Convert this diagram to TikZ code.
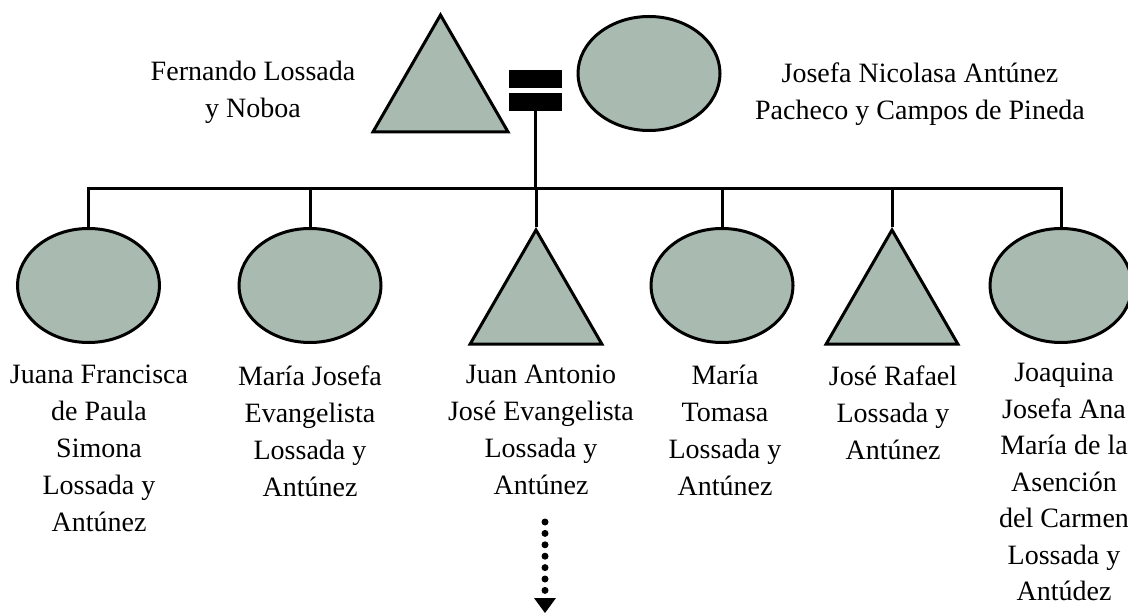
\documentclass[tikz,border=0pt]{standalone}
\usepackage{fontspec}
\setmainfont{Liberation Serif}
\usepackage{tikz}
\definecolor{sage}{HTML}{A9BBB1}
\usetikzlibrary{arrows.meta,shapes.geometric}
\tikzstyle{mujer}=[ellipse, draw=black, fill=sage, line width=1.5pt, minimum width=71pt, minimum height=57pt, inner sep=0]
\tikzstyle{hombre}=[regular polygon, regular polygon sides=3, draw=black, fill=sage, line width=1.5pt, minimum size=76pt, inner sep=0]
\tikzstyle{enlace}=[rectangle, fill=black, minimum width=26.5pt, minimum height=9pt, inner sep=0]
\tikzstyle{nombre}=[align=center, inner sep=0, font=\fontsize{14}{18.5}\selectfont]

\begin{document}
\begin{tikzpicture}[x=0.5pt, y=-0.5pt]
			\useasboundingbox (0,0) rectangle (1128,614);
			% pareja
			\node[hombre, minimum size=78pt] (padre) at (440.5,93) {};
			\node[mujer] (madre) at (649,73.5) {};
			\node[enlace] (enl1) at (535.5,79) {};
			\node[enlace] (enl2) at (535.5,102) {};
			\node[nombre] (nPadre) at (253,92) {Fernando Lossada\\y Noboa};
			\node[nombre] (nMadre) at (920,94) {Josefa Nicolasa Antúnez\\Pacheco y Campos de Pineda};
			% hijos
			\node[mujer] (h1) at (88.5,285.5) {};
			\node[mujer] (h2) at (310,285.5) {};
			\node[hombre] (h3) at (536,306) {};
			\node[mujer] (h4) at (722,285.5) {};
			\node[hombre] (h5) at (892,306) {};
			\node[mujer] (h6) at (1061,285.5) {};
			\node[nombre, anchor=north] (n1) at (99,365) {Juana Francisca\\de Paula\\Simona\\Lossada y\\Antúnez};
			\node[nombre, anchor=north] (n2) at (310,365) {María Josefa\\Evangelista\\Lossada y\\Antúnez};
			\node[nombre, anchor=north] (n3) at (541,365) {Juan Antonio\\José Evangelista\\Lossada y\\Antúnez};
			\node[nombre, anchor=north] (n4) at (725,365) {María\\Tomasa\\Lossada y\\Antúnez};
			\node[nombre, anchor=north] (n5) at (893,365) {José Rafael\\Lossada y\\Antúnez};
			\node[nombre, anchor=north, font=\fontsize{14}{18.25}\selectfont] (n6) at (1064,363) {Joaquina\\Josefa Ana\\María de la\\Asención\\del Carmen\\Lossada y\\Antúdez};
			% lineas
			\coordinate (barra) at (535.5,189);
			\path[draw=black, line width=1.5pt] (enl2.south)--(enl2.south |- barra) (h1.north)--(h1.north |- barra)--(h6.north |- barra)--(h6.north);
			\foreach \h in {h2,h3,h4,h5} \path[draw=black, line width=1.5pt] (\h.north)--(\h.north |- barra);
			\coordinate (descA) at (545,522);
			\coordinate (descB) at (545,613);
			\draw[line width=3.5pt, line cap=round, dash pattern=on 0pt off 5.7pt, -{Triangle[width=11pt,length=7.5pt,line width=0pt]}] (descA)--(descB);
		\end{tikzpicture}
\end{document}
